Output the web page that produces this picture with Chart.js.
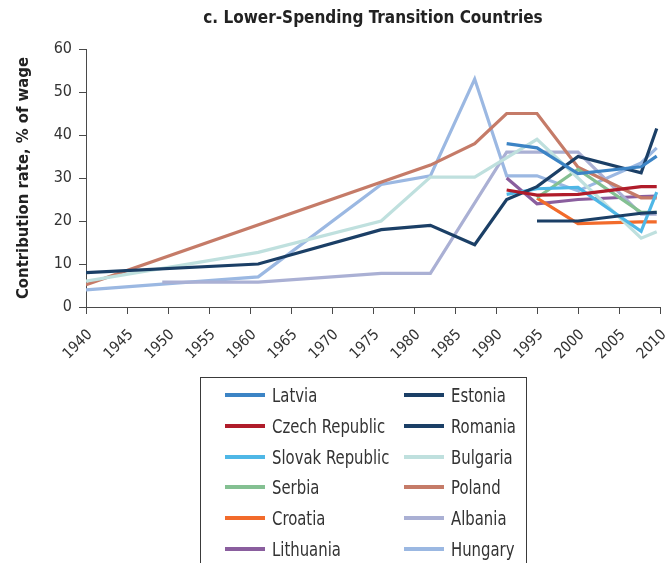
<!DOCTYPE html>
<html>
<head>
<meta charset="utf-8">
<script src="https://cdn.jsdelivr.net/npm/chart.js@4.4.0/dist/chart.umd.min.js"></script>
<style>
html,body{margin:0;padding:0;background:#fff;overflow:hidden;}
#wrap{position:relative;width:666px;height:563px;overflow:hidden;}
#c{position:absolute;left:0;top:0;}
#legend{position:absolute;left:200px;top:377px;width:327px;height:220px;border:1.5px solid #3a3a3a;box-sizing:border-box;
 font-family:'DejaVu Sans Condensed','Liberation Sans Narrow',sans-serif;font-size:19px;color:#333;}
.item{position:absolute;display:flex;align-items:center;height:30px;white-space:nowrap;}
.sw{width:40px;height:4px;margin-right:7px;flex:none;}
.tx{display:inline-block;transform:scaleX(0.87);transform-origin:0 50%;}
</style>
</head>
<body>
<div id="wrap">
<canvas id="c" width="666" height="563"></canvas>
<div id="legend"></div>
</div>
<script>
const FONT = "'DejaVu Sans Condensed','Liberation Sans Narrow',sans-serif";

// ---- data (year, contribution rate % of wage) ----
const latviaYears    = [1991.3, 1995, 2000, 2007.7, 2009.6];
const latviaRates    = [38, 37, 31, 32.6, 35.1];
const estoniaYears   = [1995, 2000, 2007.7, 2009.6];
const estoniaRates   = [20, 20, 21.8, 22];
const czechYears     = [1991.3, 1995, 2000, 2007.7, 2009.6];
const czechRates     = [27.2, 26, 26.2, 28, 28];
const romaniaYears   = [1940, 1961, 1976, 1982, 1987.4, 1991.3, 1995, 2000, 2007.7, 2009.6];
const romaniaRates   = [8, 10, 18, 19, 14.5, 25, 28, 35, 31.2, 41.5];
const slovakYears    = [1991.3, 1995, 2000, 2007.7, 2009.6];
const slovakRates    = [26.2, 27.5, 27.8, 17.6, 26.7];
const bulgariaYears  = [1940, 1961, 1976, 1982, 1987.4, 1995, 2000, 2007.7, 2009.6];
const bulgariaRates  = [6, 12.7, 20, 30.2, 30.2, 39, 30, 16, 17.5];
const serbiaYears    = [1995, 2000, 2007.7, 2009.6];
const serbiaRates    = [25.4, 32, 22, 22];
const polandYears    = [1940, 1982, 1987.4, 1991.3, 1995, 2000, 2007.7, 2009.6];
const polandRates    = [5.2, 33, 38, 45, 45, 32.5, 25.4, 25.4];
const croatiaYears   = [1995, 2000, 2007.7, 2009.6];
const croatiaRates   = [25.3, 19.4, 19.8, 19.8];
const albaniaYears   = [1949.3, 1961, 1976, 1982, 1991.3, 1995, 2000, 2007.7, 2009.6];
const albaniaRates   = [5.8, 5.8, 7.8, 7.8, 36, 36, 36, 21.6, 21.6];
const lithuaniaYears = [1991.3, 1995, 2000, 2007.7, 2009.6];
const lithuaniaRates = [30, 24, 25, 25.7, 25.8];
const hungaryYears   = [1940, 1961, 1976, 1982, 1987.4, 1991.3, 1995, 2000, 2007.7, 2009.6];
const hungaryRates   = [4, 7, 28.5, 30.5, 53, 30.5, 30.5, 27, 33.5, 37];

const countries = ['Latvia','Estonia','Czech Republic','Romania','Slovak Republic','Bulgaria',
                   'Serbia','Poland','Croatia','Albania','Lithuania','Hungary'];
const yearsList = [latviaYears, estoniaYears, czechYears, romaniaYears, slovakYears, bulgariaYears,
                   serbiaYears, polandYears, croatiaYears, albaniaYears, lithuaniaYears, hungaryYears];
const ratesList = [latviaRates, estoniaRates, czechRates, romaniaRates, slovakRates, bulgariaRates,
                   serbiaRates, polandRates, croatiaRates, albaniaRates, lithuaniaRates, hungaryRates];
const colors = ['#3c84c5','#1b3f66','#b01c2a','#1b3f66','#4fb7e6','#bfe0de',
                '#84c092','#c57b68','#f26b2b','#aab0d4','#8a5e9e','#9bb8e2'];

const datasets = countries.map((name, i) => ({
  label: name,
  data: yearsList[i].map((y, j) => ({x: y, y: ratesList[i][j]})),
  borderColor: colors[i],
  backgroundColor: colors[i],
  borderWidth: 3.2,
  pointRadius: 0,
  tension: 0,
  fill: false
}));

const axisColor = '#4a4a4a';

new Chart(document.getElementById('c'), {
  type: 'line',
  data: { datasets },
  options: {
    responsive: false,
    animation: false,
    layout: { padding: { left: 0, right: 6, top: 0, bottom: 188 } },
    plugins: {
      legend: { display: false },
      tooltip: { enabled: false },
      title: {
        display: true,
        fullSize: false,
        text: 'c. Lower-Spending Transition Countries',
        color: '#222',
        font: { family: FONT, size: 17, weight: 'bold' },
        padding: { top: 8, bottom: 20.6 }
      }
    },
    scales: {
      x: {
        type: 'linear', min: 1940, max: 2010,
        ticks: { stepSize: 5, minRotation: 45, maxRotation: 45, color: '#333',
                 font: { family: FONT, size: 15 }, padding: 12, labelOffset: 4,
                 callback: v => String(v) },
        grid: { drawOnChartArea: false, drawTicks: true, tickLength: 7, color: axisColor },
        border: { display: true, color: axisColor, width: 1 },
        afterFit: s => { s.height = 68; s.paddingLeft = 0; s.paddingRight = 0; }
      },
      y: {
        min: 0, max: 60,
        ticks: { stepSize: 10, color: '#333', font: { family: FONT, size: 16 }, padding: 7 },
        grid: { drawOnChartArea: false, drawTicks: true, tickLength: 7, color: axisColor },
        border: { display: true, color: axisColor, width: 1 },
        title: { display: true, text: 'Contribution rate, % of wage', color: '#222',
                 font: { family: FONT, size: 16.5, weight: 'bold' }, padding: { top: 14, bottom: 0 } },
        afterFit: s => { s.width = 86; s.paddingTop = 0; s.paddingBottom = 0; }
      }
    }
  }
});

// HTML legend built from the datasets (two columns, row-major order)
const leg = document.getElementById('legend');
countries.forEach((name, i) => {
  const row = Math.floor(i / 2), col = i % 2;
  const d = document.createElement('div');
  d.className = 'item';
  d.style.left = (col === 0 ? 24 : 203) + 'px';
  d.style.top = (2 + row * 30.8) + 'px';
  const sw = document.createElement('span');
  sw.className = 'sw';
  sw.style.background = colors[i];
  const t = document.createElement('span');
  t.className = 'tx';
  t.textContent = name;
  d.appendChild(sw); d.appendChild(t);
  leg.appendChild(d);
});
</script>
</body>
</html>
